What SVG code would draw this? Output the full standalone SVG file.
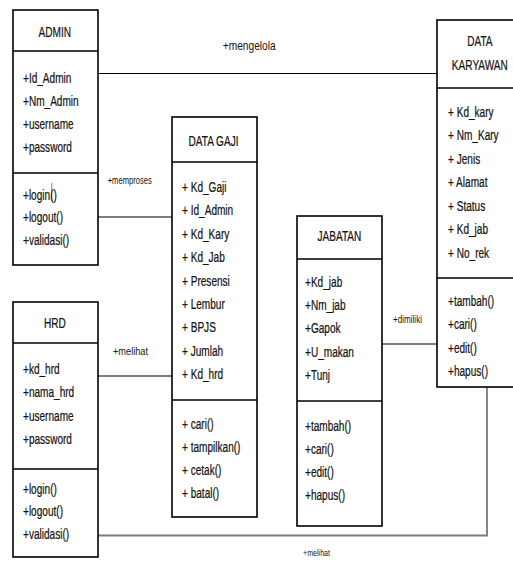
<svg xmlns="http://www.w3.org/2000/svg" width="513" height="565" viewBox="0 0 513 565">
  <style>
    .box { fill: #ffffff; stroke: #000000; stroke-width: 1.6; }
    .div { stroke: #000000; stroke-width: 1.3; }
    .t text { font-family: "Liberation Sans", Arial, sans-serif; font-size: 15.5px; fill: #141414; stroke: #141414; stroke-width: 0.25; }
    .t .c { text-anchor: middle; }
    .conn line, .conn polyline { fill: none; stroke: #000000; stroke-width: 1.2; }
    .conn .grey { stroke: #7a7a7a; stroke-width: 1.8; }
    .lbl { font-family: "Liberation Sans", Arial, sans-serif; fill: #141414; }
  </style>

  <rect width="513" height="565" fill="#ffffff"/>

  <!-- associations -->
  <g id="connectors" class="conn">
    <line x1="98" y1="73.5" x2="437" y2="73.5"/>
    <line x1="98" y1="217" x2="172" y2="217"/>
    <line x1="98" y1="376" x2="172" y2="376"/>
    <line x1="382" y1="344" x2="437" y2="344"/>
    <polyline class="grey" points="98,535.5 487,535.5 487,387"/>
    <text class="lbl" x="222.7" y="50" font-size="13" textLength="53" lengthAdjust="spacingAndGlyphs">+mengelola</text>
    <text class="lbl" x="107.7" y="184" font-size="10" textLength="44" lengthAdjust="spacingAndGlyphs">+memproses</text>
    <text class="lbl" x="113" y="355" font-size="10" textLength="35" lengthAdjust="spacingAndGlyphs">+melihat</text>
    <text class="lbl" x="393" y="323" font-size="10" textLength="29" lengthAdjust="spacingAndGlyphs">+dimiliki</text>
    <text class="lbl" x="303" y="555.5" font-size="9.5" textLength="27" lengthAdjust="spacingAndGlyphs">+melihat</text>
  </g>

  <!-- ADMIN class -->
  <g id="admin">
    <rect class="box" x="13" y="10" width="85" height="255"/>
    <line class="div" x1="13" y1="51" x2="98" y2="51"/>
    <line class="div" x1="13" y1="173" x2="98" y2="173"/>
    <line x1="51.7" y1="183" x2="51.7" y2="201" stroke="#666666" stroke-width="0.8"/>
    <g class="t" transform="translate(23 0) scale(0.65 1)">
      <text class="c" x="49" y="37">ADMIN</text>
      <text x="0" y="83.5">+Id_Admin</text>
      <text x="0" y="106.5">+Nm_Admin</text>
      <text x="0" y="129.5">+username</text>
      <text x="0" y="152.5">+password</text>
      <text x="0" y="200">+login()</text>
      <text x="0" y="222.5">+logout()</text>
      <text x="0" y="245">+validasi()</text>
    </g>
  </g>

  <!-- DATA GAJI class -->
  <g id="data-gaji">
    <rect class="box" x="172" y="117" width="85" height="400"/>
    <line class="div" x1="172" y1="162" x2="257" y2="162"/>
    <line class="div" x1="172" y1="400" x2="257" y2="400"/>
    <g class="t" transform="translate(182 0) scale(0.65 1)">
      <text class="c" x="48.5" y="146">DATA GAJI</text>
      <text x="0" y="192">+ Kd_Gaji</text>
      <text x="0" y="215.4">+ Id_Admin</text>
      <text x="0" y="238.8">+ Kd_Kary</text>
      <text x="0" y="262.2">+ Kd_Jab</text>
      <text x="0" y="285.6">+ Presensi</text>
      <text x="0" y="309">+ Lembur</text>
      <text x="0" y="332.4">+ BPJS</text>
      <text x="0" y="355.8">+ Jumlah</text>
      <text x="0" y="379.2">+ Kd_hrd</text>
      <text x="0" y="429">+ cari()</text>
      <text x="0" y="452">+ tampilkan()</text>
      <text x="0" y="475">+ cetak()</text>
      <text x="0" y="498">+ batal()</text>
    </g>
  </g>

  <!-- HRD class -->
  <g id="hrd">
    <rect class="box" x="13" y="302" width="85" height="255"/>
    <line class="div" x1="13" y1="343" x2="98" y2="343"/>
    <line class="div" x1="13" y1="469" x2="98" y2="469"/>
    <g class="t" transform="translate(23 0) scale(0.65 1)">
      <text class="c" x="49" y="328">HRD</text>
      <text x="0" y="374">+kd_hrd</text>
      <text x="0" y="397.5">+nama_hrd</text>
      <text x="0" y="421">+username</text>
      <text x="0" y="444">+password</text>
      <text x="0" y="494">+login()</text>
      <text x="0" y="516.5">+logout()</text>
      <text x="0" y="539">+validasi()</text>
    </g>
  </g>

  <!-- JABATAN class -->
  <g id="jabatan">
    <rect class="box" x="297" y="216" width="85" height="310"/>
    <line class="div" x1="297" y1="259" x2="382" y2="259"/>
    <line class="div" x1="297" y1="401" x2="382" y2="401"/>
    <g class="t" transform="translate(305 0) scale(0.65 1)">
      <text class="c" x="53" y="241">JABATAN</text>
      <text x="0" y="287">+Kd_jab</text>
      <text x="0" y="310">+Nm_jab</text>
      <text x="0" y="333.5">+Gapok</text>
      <text x="0" y="357">+U_makan</text>
      <text x="0" y="380.5">+Tunj</text>
      <text x="0" y="431">+tambah()</text>
      <text x="0" y="454">+cari()</text>
      <text x="0" y="477">+edit()</text>
      <text x="0" y="500">+hapus()</text>
    </g>
  </g>

  <!-- DATA KARYAWAN class (runs past the right edge) -->
  <g id="data-karyawan">
    <rect class="box" x="437" y="20" width="90" height="367"/>
    <line class="div" x1="437" y1="88" x2="527" y2="88"/>
    <line class="div" x1="437" y1="278" x2="527" y2="278"/>
    <g class="t" transform="translate(448 0) scale(0.65 1)">
      <text class="c" x="49" y="46">DATA</text>
      <text class="c" x="49" y="70">KARYAWAN</text>
      <text x="0" y="117">+ Kd_kary</text>
      <text x="0" y="140.5">+ Nm_Kary</text>
      <text x="0" y="164">+ Jenis</text>
      <text x="0" y="187.5">+ Alamat</text>
      <text x="0" y="211">+ Status</text>
      <text x="0" y="234.5">+ Kd_jab</text>
      <text x="0" y="258">+ No_rek</text>
      <text x="0" y="306">+tambah()</text>
      <text x="0" y="329.5">+cari()</text>
      <text x="0" y="353">+edit()</text>
      <text x="0" y="376">+hapus()</text>
    </g>
  </g>
</svg>
